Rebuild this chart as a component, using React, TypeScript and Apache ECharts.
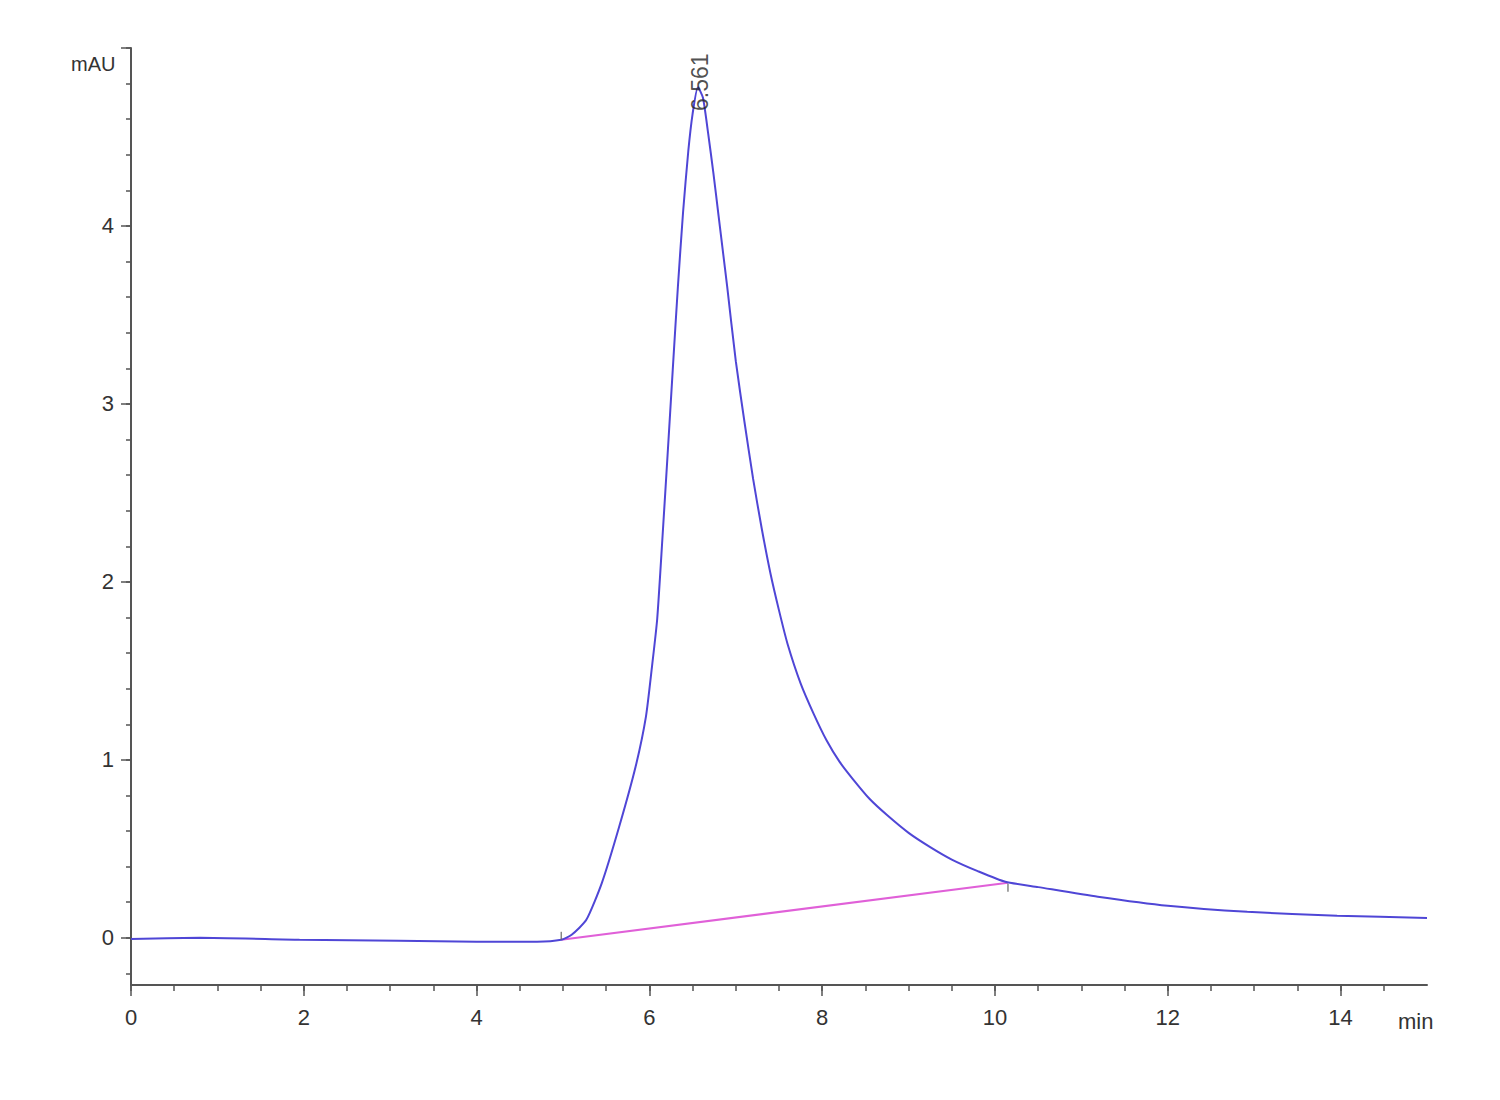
import { useRef, useEffect } from "react";
import * as echarts from "echarts";

// chromatogram trace (min, mAU)
const TIME_MIN = [
  0, 0.8, 1.95, 3.1, 4.0, 4.7, 4.98, 5.1, 5.27, 5.45, 5.65, 5.84, 5.96, 6.03,
  6.09, 6.15, 6.21, 6.27, 6.33, 6.39, 6.45, 6.5, 6.561, 6.62, 6.68, 6.74, 6.8,
  6.85, 6.9, 7.0, 7.1, 7.2, 7.3, 7.4, 7.5, 7.6, 7.75, 7.9, 8.05, 8.2, 8.35,
  8.55, 8.75, 9.0, 9.25, 9.5, 9.8, 10.12, 10.5, 11.19, 12.0, 12.92, 13.96, 15.0,
];
const SIGNAL_MAU = [
  -0.006, 0.0, -0.011, -0.017, -0.022, -0.022, -0.011, 0.017, 0.101, 0.309,
  0.624, 0.961, 1.243, 1.524, 1.79, 2.24, 2.71, 3.19, 3.66, 4.08, 4.42, 4.63,
  4.78, 4.72, 4.52, 4.3, 4.06, 3.86, 3.66, 3.24, 2.9, 2.58, 2.3, 2.05, 1.84,
  1.65, 1.43, 1.26, 1.11, 0.99, 0.895, 0.78, 0.69, 0.59, 0.51, 0.44, 0.375,
  0.315, 0.285, 0.231, 0.18, 0.146, 0.124, 0.112,
];

// integration baseline of the peak
const BASELINE_TIME = [4.98, 10.15];
const BASELINE_MAU = [-0.011, 0.31];

const PEAK_TIME = 6.561;
const PEAK_MAU = 4.78;

// ticks
const X_MAJOR = [0, 2, 4, 6, 8, 10, 12, 14];
const X_MINOR = Array.from({ length: 30 }, (_, i) => i * 0.5);
const Y_MAJOR = [0, 1, 2, 3, 4, 5];
const Y_LABELS = [0, 1, 2, 3, 4];
const Y_MINOR = Array.from({ length: 27 }, (_, i) => +(-0.2 + i * 0.2).toFixed(1));

const FONT = "'Liberation Sans Narrow', 'Liberation Sans', Arial, sans-serif";
const AXIS_COLOR = "#555";
const TEXT_COLOR = "#333";

const App = () => {
  const chartRef = useRef<HTMLDivElement>(null);

  useEffect(() => {
    if (!chartRef.current) return;
    const myChart = echarts.init(chartRef.current, null, { renderer: "svg" });

    const trace = TIME_MIN.map((t, i) => [t, SIGNAL_MAU[i]]);
    const baseline = BASELINE_TIME.map((t, i) => [t, BASELINE_MAU[i]]);

    const xBase = {
      type: "value" as const,
      min: 0,
      max: 15,
      position: "bottom" as const,
      splitLine: { show: false },
    };
    const yBase = {
      type: "value" as const,
      min: -0.265,
      max: 5,
      position: "left" as const,
      splitLine: { show: false },
    };

    const option: any = {
      animation: false,
      backgroundColor: "#fff",
      grid: { left: 131, right: 73, top: 48, bottom: 115 },
      xAxis: [
        {
          ...xBase,
          axisLine: { show: true, onZero: false, lineStyle: { color: AXIS_COLOR, width: 2 } },
          axisTick: {
            show: true,
            customValues: X_MINOR,
            length: 6,
            lineStyle: { color: AXIS_COLOR, width: 1.5 },
          },
          axisLabel: { show: false },
        },
        {
          ...xBase,
          axisLine: { show: false, onZero: false },
          axisTick: {
            show: true,
            customValues: X_MAJOR,
            length: 11,
            lineStyle: { color: AXIS_COLOR, width: 1.5 },
          },
          axisLabel: {
            customValues: X_MAJOR,
            margin: 21,
            fontSize: 22,
            fontFamily: FONT,
            color: TEXT_COLOR,
          },
        },
      ],
      yAxis: [
        {
          ...yBase,
          axisLine: { show: true, onZero: false, lineStyle: { color: AXIS_COLOR, width: 2 } },
          axisTick: {
            show: true,
            customValues: Y_MINOR,
            length: 5,
            lineStyle: { color: AXIS_COLOR, width: 1.5 },
          },
          axisLabel: { show: false },
        },
        {
          ...yBase,
          axisLine: { show: false, onZero: false },
          axisTick: {
            show: true,
            customValues: Y_MAJOR,
            length: 10,
            lineStyle: { color: AXIS_COLOR, width: 1.5 },
          },
          axisLabel: {
            customValues: Y_LABELS,
            margin: 17,
            fontSize: 22,
            fontFamily: FONT,
            color: TEXT_COLOR,
          },
        },
      ],
      graphic: [
        {
          type: "text",
          left: 71,
          top: 54,
          style: { text: "mAU", fontSize: 20, fontFamily: FONT, fill: TEXT_COLOR },
        },
        {
          type: "text",
          left: 1398,
          top: 1010,
          style: { text: "min", fontSize: 22, fontFamily: FONT, fill: TEXT_COLOR },
        },
      ],
      series: [
        {
          name: "baseline",
          type: "line",
          data: baseline,
          showSymbol: false,
          lineStyle: { color: "#e060d8", width: 2 },
          z: 2,
        },
        {
          name: "signal",
          type: "line",
          data: trace,
          showSymbol: false,
          smooth: 0.2,
          lineStyle: { color: "#4f46d6", width: 2 },
          z: 3,
        },
        {
          name: "peak marks",
          type: "scatter",
          data: [
            { value: baseline[0], symbolOffset: [0, -4] },
            { value: baseline[1], symbolOffset: [0, 5] },
          ],
          symbol: "rect",
          symbolSize: [1.5, 8],
          itemStyle: { color: "#666" },
          z: 4,
        },
        {
          name: "peak label",
          type: "scatter",
          data: [[PEAK_TIME, PEAK_MAU]],
          symbolSize: 0,
          label: {
            show: true,
            position: "inside",
            // offset is in the rotated frame: x runs up the page, y to the right
            offset: [5, 2],
            rotate: 90,
            formatter: () => PEAK_TIME.toFixed(3),
            fontSize: 23,
            fontFamily: FONT,
            color: "#222",
          },
          z: 5,
        },
      ],
    };
    myChart.setOption(option);

    return () => {
      myChart.dispose();
    };
  }, []);

  return (
    <div
      ref={chartRef}
      style={{ position: "absolute", left: 0, top: 0, width: 1500, height: 1100 }}
    ></div>
  );
};

export default App;
